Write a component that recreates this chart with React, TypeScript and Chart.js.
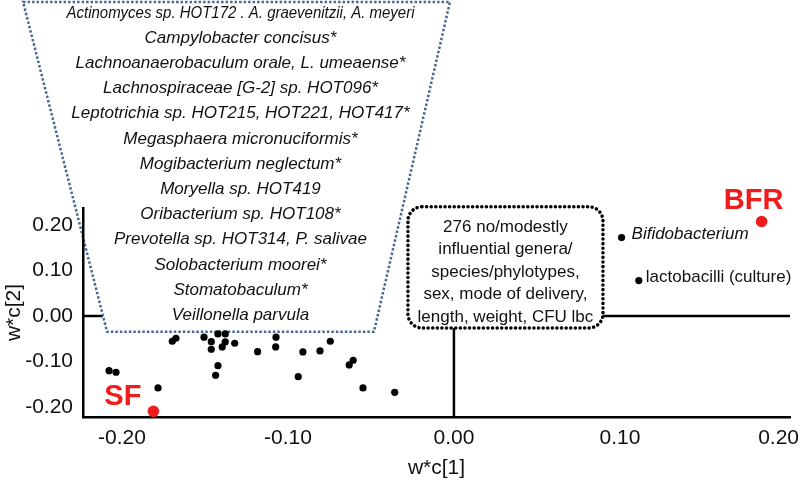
import React, { useEffect, useRef } from 'react';
import { Chart, registerables } from 'chart.js';

Chart.register(...registerables);

// ---------- data ----------
const X_TICKS = [-0.2, -0.1, 0, 0.1, 0.2];
const Y_TICKS = [-0.2, -0.1, 0, 0.1, 0.2];
const X_MIN = -0.2235;
const X_MAX = 0.2025;
const Y_MIN = -0.222;
const Y_MAX = 0.237;
const X_TITLE = 'w*c[1]';
const Y_TITLE = 'w*c[2]';

const CLUSTER_X = [
  -0.2078, -0.2036, -0.1783, -0.1697, -0.1675, -0.1506, -0.1462, -0.1462, -0.1422,
  -0.1378, -0.1378, -0.1396, -0.1321, -0.1422, -0.1436, -0.1183, -0.1072, -0.1074,
  -0.091, -0.0938, -0.0807, -0.0745, -0.0631, -0.0607, -0.0548, -0.0357,
];
const CLUSTER_Y = [
  -0.1202, -0.1237, -0.1582, -0.0556, -0.049, -0.0468, -0.0565, -0.0732, -0.0396,
  -0.0396, -0.0571, -0.0681, -0.06, -0.1092, -0.1303, -0.0785, -0.0468, -0.0681,
  -0.0791, -0.1334, -0.0769, -0.0556, -0.1077, -0.0974, -0.1582, -0.1677,
];

const GROUP_LABELS = ['SF', 'BFR'];
const GROUP_X = [-0.1811, 0.1854];
const GROUP_Y = [-0.2095, 0.2073];

const TAXA_LABELS = ['Bifidobacterium', 'lactobacilli (culture)'];
const TAXA_ITALIC = [true, false];
const TAXA_X = [0.101, 0.1114];
const TAXA_Y = [0.1721, 0.0776];

const BOX_LINES = [
  '276 no/modestly',
  'influential genera/',
  'species/phylotypes,',
  'sex, mode of delivery,',
  'length, weight, CFU lbc',
];

const TRAP_LINES = [
  'Actinomyces sp. HOT172 . A. graevenitzii, A. meyeri',
  'Campylobacter concisus*',
  'Lachnoanaerobaculum orale, L. umeaense*',
  'Lachnospiraceae [G-2] sp. HOT096*',
  'Leptotrichia sp. HOT215, HOT221, HOT417*',
  'Megasphaera micronuciformis*',
  'Mogibacterium neglectum*',
  'Moryella sp. HOT419',
  'Oribacterium sp. HOT108*',
  'Prevotella sp. HOT314, P. salivae',
  'Solobacterium moorei*',
  'Stomatobaculum*',
  'Veillonella parvula',
];

// annotation geometry (data units)
const TRAP = { topY: 0.6895, bottomY: -0.035, topLeftX: -0.2596, topRightX: -0.0024, bottomLeftX: -0.209, bottomRightX: -0.0482 };
const BOX = { left: -0.0277, right: 0.0898, top: 0.2396, bottom: -0.0264 };

const FONT = "'Liberation Sans', Arial, sans-serif";
const RED = '#ee1c1c';
const TICK_SIZE = 21;

const annotationPlugin = {
  id: 'annotations',
  beforeDraw(chart: any) {
    const { ctx } = chart;
    const xs = chart.scales.x;
    const ys = chart.scales.y;
    const px = (v: number) => xs.getPixelForValue(v);
    const py = (v: number) => ys.getPixelForValue(v);

    const tl = [px(TRAP.topLeftX), py(TRAP.topY)];
    const tr = [px(TRAP.topRightX), py(TRAP.topY)];
    const br = [px(TRAP.bottomRightX), py(TRAP.bottomY)];
    const bl = [px(TRAP.bottomLeftX), py(TRAP.bottomY)];

    const y0 = py(0);
    const x0 = px(0);
    const tEdge = (y0 - tl[1]) / (bl[1] - tl[1]);
    const leftEdgeX = tl[0] + (bl[0] - tl[0]) * tEdge;

    const bx1 = px(BOX.left), bx2 = px(BOX.right), by1 = py(BOX.top), by2 = py(BOX.bottom);

    ctx.save();
    ctx.strokeStyle = '#000';
    ctx.lineWidth = 2.5;
    ctx.beginPath();
    ctx.moveTo(px(X_MIN), y0);
    ctx.lineTo(leftEdgeX, y0);
    ctx.moveTo(bx2, y0);
    ctx.lineTo(px(X_MAX), y0);
    ctx.moveTo(x0, by2);
    ctx.lineTo(x0, py(Y_MIN));
    ctx.stroke();

    ctx.beginPath();
    ctx.moveTo(tl[0], tl[1]);
    ctx.lineTo(tr[0], tr[1]);
    ctx.lineTo(br[0], br[1]);
    ctx.lineTo(bl[0], bl[1]);
    ctx.closePath();
    ctx.fillStyle = '#fff';
    ctx.fill();
    ctx.setLineDash([2.5, 2]);
    ctx.lineWidth = 2.5;
    ctx.strokeStyle = '#4a6890';
    ctx.stroke();
    ctx.setLineDash([]);

    ctx.fillStyle = '#111';
    ctx.font = `italic 17px ${FONT}`;
    ctx.textAlign = 'center';
    ctx.textBaseline = 'middle';
    const cx = (bl[0] + br[0]) / 2;
    TRAP_LINES.forEach((t, i) => {
      ctx.fillText(t, cx, tl[1] + 11 + i * 25.2, 348);
    });

    const r = 14;
    ctx.beginPath();
    ctx.moveTo(bx1 + r, by1);
    ctx.lineTo(bx2 - r, by1);
    ctx.arcTo(bx2, by1, bx2, by1 + r, r);
    ctx.lineTo(bx2, by2 - r);
    ctx.arcTo(bx2, by2, bx2 - r, by2, r);
    ctx.lineTo(bx1 + r, by2);
    ctx.arcTo(bx1, by2, bx1, by2 - r, r);
    ctx.lineTo(bx1, by1 + r);
    ctx.arcTo(bx1, by1, bx1 + r, by1, r);
    ctx.closePath();
    ctx.fillStyle = '#fff';
    ctx.fill();
    ctx.setLineDash([0.1, 4.5]);
    ctx.lineCap = 'round';
    ctx.lineWidth = 3.5;
    ctx.strokeStyle = '#000';
    ctx.stroke();
    ctx.setLineDash([]);
    ctx.lineCap = 'butt';

    ctx.fillStyle = '#111';
    ctx.font = `17px ${FONT}`;
    const bcx = (bx1 + bx2) / 2;
    BOX_LINES.forEach((t, i) => {
      ctx.fillText(t, bcx, by1 + 20 + i * 22.5);
    });

    // x tick labels (kept inside the canvas)
    ctx.font = `${TICK_SIZE}px ${FONT}`;
    ctx.fillStyle = '#111';
    const cw = chart.width;
    X_TICKS.forEach((v) => {
      const label = v.toFixed(2);
      const w = ctx.measureText(label).width;
      const x = Math.min(px(v), cw - 1 - w / 2);
      ctx.fillText(label, x, chart.chartArea.bottom + 21);
    });
    ctx.restore();
  },
  afterDatasetsDraw(chart: any) {
    const { ctx } = chart;
    ctx.save();
    const red = chart.getDatasetMeta(1).data;
    ctx.fillStyle = RED;
    ctx.font = `bold 29px ${FONT}`;
    ctx.textBaseline = 'middle';
    ctx.textAlign = 'right';
    ctx.fillText(GROUP_LABELS[0], red[0].x - 12, red[0].y - 14);
    ctx.textAlign = 'center';
    ctx.fillText(GROUP_LABELS[1], red[1].x - 8, red[1].y - 21);

    const taxa = chart.getDatasetMeta(2).data;
    ctx.fillStyle = '#111';
    ctx.textAlign = 'left';
    TAXA_LABELS.forEach((t, i) => {
      ctx.font = `${TAXA_ITALIC[i] ? 'italic ' : ''}17px ${FONT}`;
      ctx.fillText(t, taxa[i].x + (i === 0 ? 10 : 7), taxa[i].y - 3);
    });
    ctx.restore();
  },
};

export default function App() {
  const ref = useRef<HTMLCanvasElement>(null);

  useEffect(() => {
    if (!ref.current) return;
    const tickFont = { family: FONT, size: TICK_SIZE };
    const chart = new Chart(ref.current, {
      type: 'scatter',
      data: {
        datasets: [
          {
            data: CLUSTER_X.map((x, i) => ({ x, y: CLUSTER_Y[i] })),
            backgroundColor: '#000',
            borderWidth: 0,
            pointRadius: 3.6,
            clip: false as any,
          },
          {
            data: GROUP_X.map((x, i) => ({ x, y: GROUP_Y[i] })),
            backgroundColor: RED,
            borderWidth: 0,
            pointRadius: 5.8,
            clip: false as any,
          },
          {
            data: TAXA_X.map((x, i) => ({ x, y: TAXA_Y[i] })),
            backgroundColor: '#000',
            borderWidth: 0,
            pointRadius: 3.6,
            clip: false as any,
          },
        ],
      },
      options: {
        animation: false,
        responsive: false,
        devicePixelRatio: 1,
        layout: { autoPadding: false, padding: { top: 208, right: 10, left: 0, bottom: 0 } },
        plugins: { legend: { display: false }, tooltip: { enabled: false } },
        scales: {
          x: {
            type: 'linear',
            position: 'bottom',
            min: X_MIN,
            max: X_MAX,
            grid: { display: false, drawTicks: false },
            border: { display: true, color: '#000', width: 2.5 },
            afterBuildTicks: (s: any) => {
              s.ticks = X_TICKS.map((v) => ({ value: v }));
            },
            afterFit: (s: any) => {
              s.height = 76;
              s.paddingLeft = 0;
              s.paddingRight = 0;
            },
            ticks: { display: false },
            title: {
              display: true,
              text: X_TITLE,
              color: '#111',
              font: tickFont,
              padding: { top: 0, bottom: 12 },
            },
          },
          y: {
            type: 'linear',
            position: 'left',
            min: Y_MIN,
            max: Y_MAX,
            grid: { display: false, drawTicks: false },
            border: { display: true, color: '#000', width: 2.5 },
            afterBuildTicks: (s: any) => {
              s.ticks = Y_TICKS.map((v) => ({ value: v }));
            },
            afterFit: (s: any) => {
              s.width = 83;
              s.paddingTop = 0;
              s.paddingBottom = 0;
            },
            ticks: {
              color: '#111',
              font: tickFont,
              padding: 10,
              autoSkip: false,
              callback: (v: any) => Number(v).toFixed(2),
            },
            title: {
              display: true,
              text: Y_TITLE,
              color: '#111',
              font: tickFont,
              padding: { top: 2, bottom: 0 },
            },
          },
        },
      } as any,
      plugins: [annotationPlugin],
    });
    return () => chart.destroy();
  }, []);

  return (
    <div style={{ position: 'absolute', left: 0, top: 0, width: 800, height: 493, background: '#fff' }}>
      <canvas ref={ref} width={800} height={493} style={{ display: 'block' }} />
    </div>
  );
}
